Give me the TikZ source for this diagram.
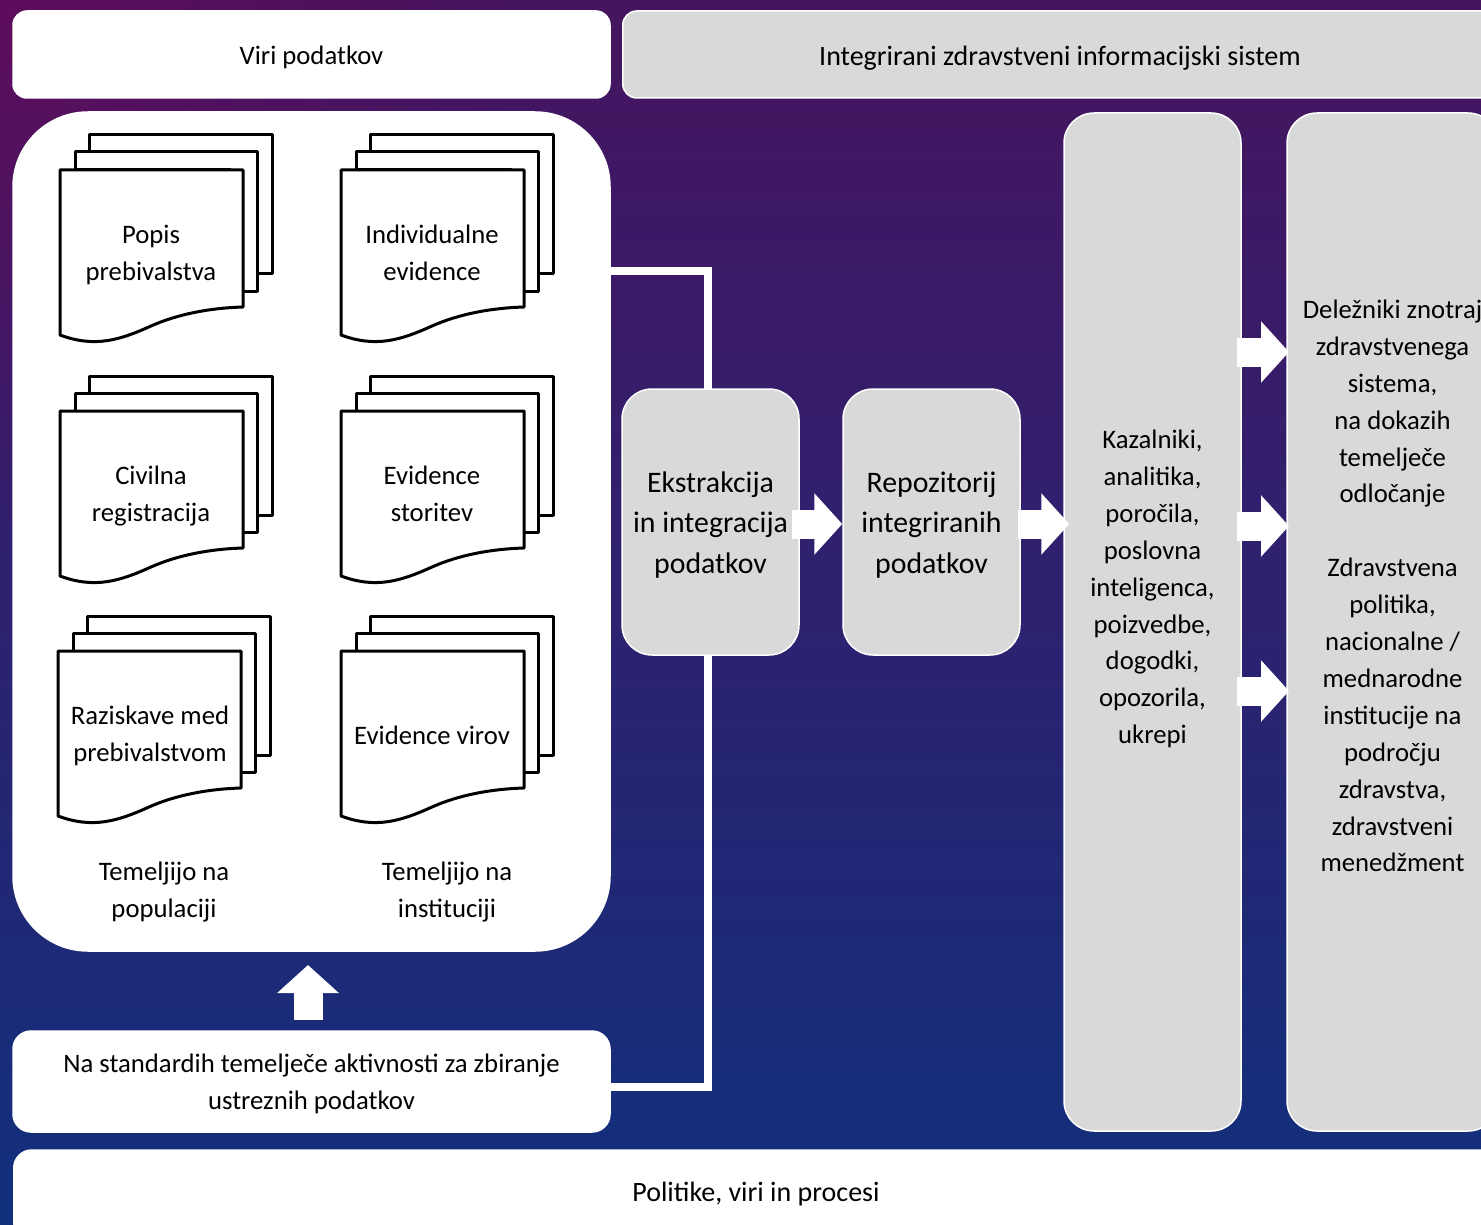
\documentclass[tikz,border=0pt]{standalone}
\usepackage{fontspec}
\setmainfont{Carlito}
\usetikzlibrary{arrows.meta,fadings}
\definecolor{skytop}{HTML}{46145F}
\definecolor{skymid}{HTML}{2D2270}
\definecolor{skylow}{HTML}{10307C}
\definecolor{skyglow}{HTML}{6A0A5A}
\definecolor{panelgray}{HTML}{D9D9D9}
\tikzfading[name=glowfade, inner color=transparent!35, outer color=transparent!100]
\tikzset{
  panel/.style={rectangle, draw=white, line width=1.5pt, inner sep=0pt, align=center, text=black},
  whitepanel/.style={panel, fill=white},
  graypanel/.style={panel, fill=panelgray},
  doctext/.style={align=center, inner sep=0pt, text=black, font=\fontsize{26.7}{36.9}\selectfont},
  widetext/.style={doctext, font=\fontsize{28}{37}\selectfont},
  bigtext/.style={doctext, font=\fontsize{29.8}{40.5}\selectfont},
  linkline/.style={draw=white, line width=7.5pt},
  bigarrow/.style={draw=white, line width=29pt, -{Triangle[length=28pt,width=60pt,fill=white]}},
  sheet/.style={draw=black, fill=white, line width=3pt, line join=round},
  docstack/.pic={
    \draw[sheet] (29,0) -- (29,-35) -- (212,-35) -- (212,104) -- (180,104) -- (180,0) -- cycle;
    \draw[sheet] (15,0) -- (15,-18) -- (197,-18) -- (197,121) -- (170,121) -- (170,0) -- cycle;
    \draw[sheet] (0,0) -- (183,0) -- (183,137) .. controls (150,138) and (118,144) .. (91,156)
      .. controls (60,170) and (35,178) .. (0,165) -- cycle;
  }
}
\begin{document}
\begin{tikzpicture}[x=1pt,y=-1pt]
\useasboundingbox (0,0) rectangle (1481,1225);
\shade[top color=skytop, bottom color=skylow, middle color=skymid] (0,0) rectangle (1481,1225);
\fill[skyglow, path fading=glowfade] (-520,-520) rectangle (520,520);

\node [whitepanel, rounded corners=14pt, minimum width=597pt, minimum height=87pt] (sources) at (311.5,54.5) {};
\node [doctext] (sourcestext) at (311.5,57) {Viri podatkov};
\node [graypanel, rounded corners=14pt, minimum width=900pt, minimum height=87pt, anchor=west] (system) at (622,54.5) {};
\node [widetext] (systemtext) at (1060,58) {Integrirani zdravstveni informacijski sistem};
\node [whitepanel, rounded corners=75pt, minimum width=597pt, minimum height=839pt] (collect) at (311.5,531.5) {};
\node [whitepanel, rounded corners=18pt, minimum width=597pt, minimum height=101pt] (standards) at (311.5,1081.5) {};
\node [doctext] (standardstext) at (311.5,1084) {Na standardih temelječe aktivnosti za zbiranje\\ustreznih podatkov};
\node [whitepanel, rounded corners=18pt, minimum width=1500pt, minimum height=90pt, anchor=west] (policies) at (13,1195) {};
\node [widetext] (policiestext) at (756,1194) {Politike, viri in procesi};

\coordinate (topjoin) at (708,271);
\coordinate (lowjoin) at (708,1087);
\draw [linkline] (topjoin -| collect.east) -- (topjoin) -- (708,389);
\draw [linkline] (lowjoin -| standards.east) -- (lowjoin) -- (708,655);

\node [graypanel, rounded corners=30pt, minimum width=177pt, minimum height=266pt] (extract) at (710.5,522) {};
\node [bigtext] (extracttext) at (710.5,525) {Ekstrakcija\\in integracija\\podatkov};
\node [graypanel, rounded corners=30pt, minimum width=177pt, minimum height=266pt] (repo) at (931.5,522) {};
\node [bigtext] (repotext) at (931.5,525) {Repozitorij\\integriranih\\podatkov};
\node [graypanel, rounded corners=30pt, minimum width=177pt, minimum height=1018pt] (indicators) at (1152.5,622) {};
\node [doctext] (indicatorstext) at (1152.5,589) {Kazalniki,\\analitika,\\poročila,\\poslovna\\inteligenca,\\poizvedbe,\\dogodki,\\opozorila,\\ukrepi};
\node [graypanel, rounded corners=30pt, minimum width=211pt, minimum height=1018pt] (users) at (1392.5,622) {};
\node [doctext] (userstext) at (1392.5,586) {Deležniki znotraj\\zdravstvenega\\sistema,\\na dokazih\\temelječe\\odločanje\\[36.9pt]Zdravstvena\\politika,\\nacionalne /\\mednarodne\\institucije na\\področju\\zdravstva,\\zdravstveni\\menedžment};

\pic at (60,170) {docstack};
\pic at (341,170) {docstack};
\pic at (60,411) {docstack};
\pic at (341,411) {docstack};
\pic at (58,651) {docstack};
\pic at (341,651) {docstack};

\node [doctext] (popis) at (151,255) {Popis\\prebivalstva};
\node [doctext] (individual) at (432,253) {Individualne\\evidence};
\node [doctext] (civil) at (151,496) {Civilna\\registracija};
\node [doctext] (service) at (432,494) {Evidence\\storitev};
\node [doctext] (survey) at (150,736) {Raziskave med\\prebivalstvom};
\node [doctext] (resource) at (432,735) {Evidence virov};
\node [doctext] (population) at (164,892) {Temeljijo na\\populaciji};
\node [doctext] (institution) at (447,892) {Temeljijo na\\instituciji};

\draw [bigarrow] ([xshift=-8pt,yshift=-2pt]extract.east) -- ([yshift=-2pt]repo.west);
\draw [bigarrow] ([xshift=-3pt,yshift=-2pt]repo.east) -- ([xshift=6pt,yshift=-2pt]indicators.west |- repo.east);
\draw [bigarrow] (1237,352) -- (1289,352);
\draw [bigarrow] (1237,526) -- (1289,526);
\draw [bigarrow] (1237,691) -- (1289,691);
\draw [bigarrow] (308,1020) -- (308,965);
\end{tikzpicture}
\end{document}
